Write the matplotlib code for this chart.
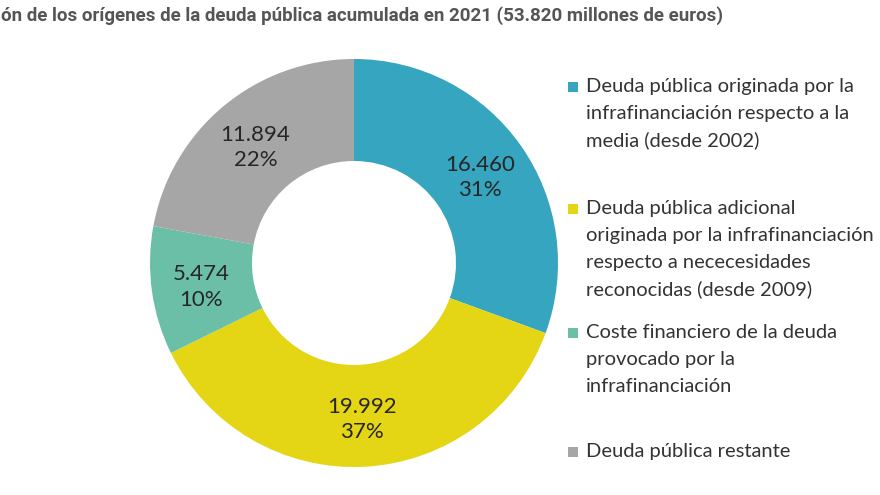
import matplotlib
matplotlib.use("Agg")
import matplotlib.pyplot as plt
import matplotlib.transforms as mtransforms
from matplotlib.patches import Rectangle

title = "ón de los orígenes de la deuda pública acumulada en 2021 (53.820 millones de euros)"
categories = [
    "Deuda pública originada por la\ninfrafinanciación respecto a la\nmedia (desde 2002)",
    "Deuda pública adicional\noriginada por la infrafinanciación\nrespecto a nececesidades\nreconocidas (desde 2009)",
    "Coste financiero de la deuda\nprovocado por la\ninfrafinanciación",
    "Deuda pública restante",
]
values = [16460, 19992, 5474, 11894]
percent_labels = ["31%", "37%", "10%", "22%"]
colors = ["#36A5BF", "#E4D515", "#6CBFA7", "#A6A6A6"]

W, H = 880, 495
fig = plt.figure(figsize=(W / 100, H / 100), dpi=100)
fig.patch.set_facecolor("white")

cx, cy, R = 354, 263, 204
ax = fig.add_axes([(cx - R) / W, (H - cy - R) / H, 2 * R / W, 2 * R / H])

def fmt(v):
    return f"{v:,}".replace(",", ".")

labels_iter = iter([f"{fmt(v)}\n{p}" for v, p in zip(values, percent_labels)])
wedges, texts, autotexts = ax.pie(
    values, colors=colors, startangle=90, counterclock=False, radius=1,
    wedgeprops=dict(width=0.5, edgecolor="none"),
    autopct=lambda p: next(labels_iter), pctdistance=0.755,
    textprops=dict(fontsize=16, color="#262626", family="Lato", linespacing=1.33),
)
shift = mtransforms.ScaledTranslation(0, -3 / 100, fig.dpi_scale_trans)
for t in autotexts:
    t.set_transform(t.get_transform() + shift)
ax.set_xlim(-1, 1)
ax.set_ylim(-1, 1)
ax.set_aspect("equal")
ax.axis("off")

fig.text(1 / W, 1 - 16 / H, title, fontsize=13.5, fontweight="bold",
         family="Roboto", color="#555555", va="center", ha="left")

# legend: baseline (px from top) of the first line of each entry
leg_base = [92, 214, 338, 457]
line_step = 27
for cat, col, yb in zip(categories, colors, leg_base):
    fig.patches.append(Rectangle((568 / W, 1 - yb / H), 10 / W, 10 / H,
                                 transform=fig.transFigure, facecolor=col,
                                 edgecolor="none"))
    for i, line in enumerate(cat.split("\n")):
        fig.text(586 / W, 1 - (yb + i * line_step) / H, line, fontsize=14.5,
                 family="Lato", color="#333333", va="baseline", ha="left")

fig.savefig("out.png", dpi=100, facecolor="white")
